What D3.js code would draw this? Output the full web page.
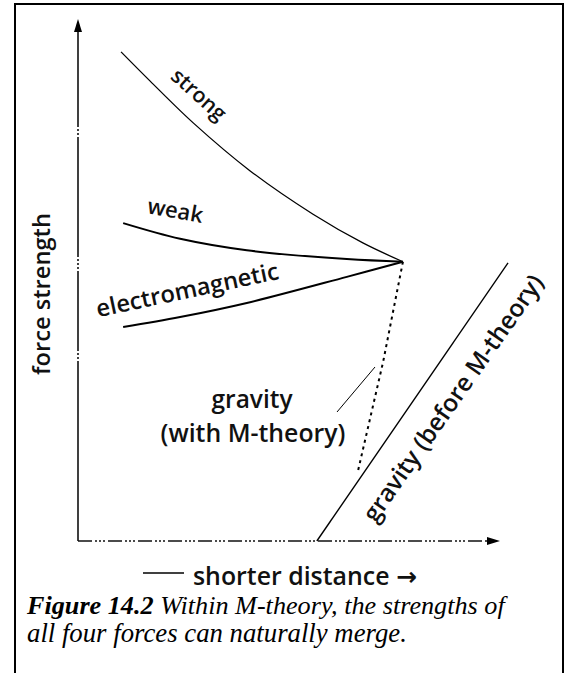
<!DOCTYPE html>
<html>
<head>
<meta charset="utf-8">
<script src="https://cdn.jsdelivr.net/npm/d3@7"></script>
<style>
  html, body { margin: 0; padding: 0; background: #fff; }
  svg { display: block; }
  .caption { font-family: "Times New Roman", "Liberation Serif", Tinos, "Nimbus Roman", "FreeSerif", Times, serif; }
</style>
</head>
<body>
<svg id="chart" width="571" height="673"></svg>
<script>
// Relative distance (0 = long range, 100 = shortest) and force strength (0..100)
const strongDistance = [10.2, 17.1, 27.3, 40.8, 55.7, 67.5, 77];
const strongValues   = [93.7, 88.1, 80.1, 70.9, 62.6, 57.1, 53.5];

const weakDistance = [10.7, 24.2, 40, 63.7, 77];
const weakValues   = [60.9, 57.9, 55.7, 54.0, 53.5];

const emDistance = [10.7, 24.2, 40, 63.7, 77];
const emValues   = [41.0, 42.9, 45.6, 50.6, 53.5];

const gravityMDistance = [77, 72.3, 66.4];
const gravityMValues   = [53.5, 34.3, 13.6];

const gravityOldDistance = [56.6, 101.9];
const gravityOldValues   = [0, 53.3];

const axisLabels = { y: "force strength", x: "shorter distance \u2192" };
const curveLabels = ["strong", "weak", "electromagnetic"];
const gravityLabels = ["gravity", "(with M-theory)", "gravity (before M-theory)"];
const captionBold = "Figure 14.2";
const captionLines = [" Within M-theory, the strengths of", "all four forces can naturally merge."];

const svg = d3.select("#chart");
const sans = "'Open Sans', 'DejaVu Sans', sans-serif";

const x = d3.scaleLinear().domain([0, 100]).range([78, 500]);
const y = d3.scaleLinear().domain([0, 100]).range([541, 19]);

// frame around the figure (open at the bottom)
svg.append("path")
  .attr("d", "M15,673 V4 H563 V673")
  .attr("fill", "none").attr("stroke", "#000").attr("stroke-width", 2);

// axes (drawn from the origin outward)
const axes = svg.append("g").attr("stroke", "#111");
axes.append("line")
  .attr("x1", x(0)).attr("y1", y(0)).attr("x2", x(0)).attr("y2", y(100) + 10)
  .attr("stroke-width", 1.6)
  .attr("stroke-dasharray", "180,2,2,2,2,2,80,2,2,2,2,2,2,2,120,2,2,2,2,2,300");
axes.append("line")
  .attr("x1", x(0)).attr("y1", y(0)).attr("x2", x(100) - 10).attr("y2", y(0))
  .attr("stroke-width", 1.6)
  .attr("stroke-dasharray", "14,3,2,2,2,2,2,3");
// arrow heads
svg.append("path")
  .attr("d", `M${x(0)},${y(100)} L${x(0) - 4},${y(100) + 13} L${x(0) + 4},${y(100) + 13} Z`)
  .attr("fill", "#000");
svg.append("path")
  .attr("d", `M${x(100)},${y(0)} L${x(100) - 13},${y(0) - 4} L${x(100) - 13},${y(0) + 4} Z`)
  .attr("fill", "#000");

const smooth = d3.line().x(d => x(d[0])).y(d => y(d[1])).curve(d3.curveCatmullRom.alpha(0.5));
const straight = d3.line().x(d => x(d[0])).y(d => y(d[1]));
const zipPts = (xs, ys) => xs.map((v, i) => [v, ys[i]]);

svg.append("path").datum(zipPts(strongDistance, strongValues))
  .attr("d", smooth).attr("fill", "none").attr("stroke", "#000").attr("stroke-width", 1.3);
svg.append("path").datum(zipPts(weakDistance, weakValues))
  .attr("d", smooth).attr("fill", "none").attr("stroke", "#000").attr("stroke-width", 2);
svg.append("path").datum(zipPts(emDistance, emValues))
  .attr("d", smooth).attr("fill", "none").attr("stroke", "#000").attr("stroke-width", 2);

// gravity with M-theory (dotted)
svg.append("path").datum(zipPts(gravityMDistance, gravityMValues))
  .attr("d", straight)
  .attr("fill", "none").attr("stroke", "#000").attr("stroke-width", 2)
  .attr("stroke-dasharray", "3,4");

// gravity before M-theory
svg.append("path").datum(zipPts(gravityOldDistance, gravityOldValues))
  .attr("d", straight)
  .attr("fill", "none").attr("stroke", "#000").attr("stroke-width", 1.4);

// pointer from the gravity label to the dotted line
svg.append("line")
  .attr("x1", 337).attr("y1", 412).attr("x2", 375).attr("y2", 367)
  .attr("stroke", "#000").attr("stroke-width", 1);

// text helper: fit a label to a given width
function label(txt, cx, cy, angle, width, size) {
  const t = svg.append("text")
    .attr("font-family", sans)
    .attr("font-weight", 600)
    .attr("font-size", size)
    .attr("text-anchor", "middle")
    .attr("fill", "#111")
    .attr("transform", `translate(${cx},${cy}) rotate(${angle})`)
    .text(txt);
  const len = t.node().getComputedTextLength();
  t.attr("font-size", size * width / len);
  return t;
}

label(curveLabels[0], 194, 100, 42, 66, 20);
label(curveLabels[1], 174, 218, 10, 56, 20);
label(curveLabels[2], 189, 298, -12, 186, 20);
label(gravityLabels[0], 252, 408, 0, 81, 20);
label(gravityLabels[1], 253, 442, 0, 185, 20);
label(gravityLabels[2], 460, 403, -55, 295, 20);
label(axisLabels.y, 50, 294, -90, 162, 20);

// x-axis title with leading rule
svg.append("line").attr("x1", 143).attr("x2", 184).attr("y1", 573).attr("y2", 573)
  .attr("stroke", "#000").attr("stroke-width", 1.3);
const xt = svg.append("text")
  .attr("x", 193).attr("y", 585)
  .attr("font-family", sans).attr("font-weight", 600).attr("font-size", 20).attr("fill", "#111")
  .text(axisLabels.x);
xt.attr("font-size", 20 * 224 / xt.node().getComputedTextLength());

// caption, sized so each line spans its measured width
function fitCaption(t, width, size) {
  const len = t.node().getComputedTextLength();
  t.attr("font-size", size * width / len);
}
const cap1 = svg.append("text").attr("class", "caption").attr("x", 27).attr("y", 614)
  .attr("font-size", 23).attr("font-style", "italic").attr("fill", "#000");
cap1.append("tspan").attr("font-weight", "bold").text(captionBold);
cap1.append("tspan").text(captionLines[0]);
fitCaption(cap1, 478, 23);
const cap2 = svg.append("text").attr("class", "caption").attr("x", 27).attr("y", 642)
  .attr("font-size", 23).attr("font-style", "italic").attr("fill", "#000")
  .text(captionLines[1]);
fitCaption(cap2, 380, 23);
</script>
</body>
</html>
